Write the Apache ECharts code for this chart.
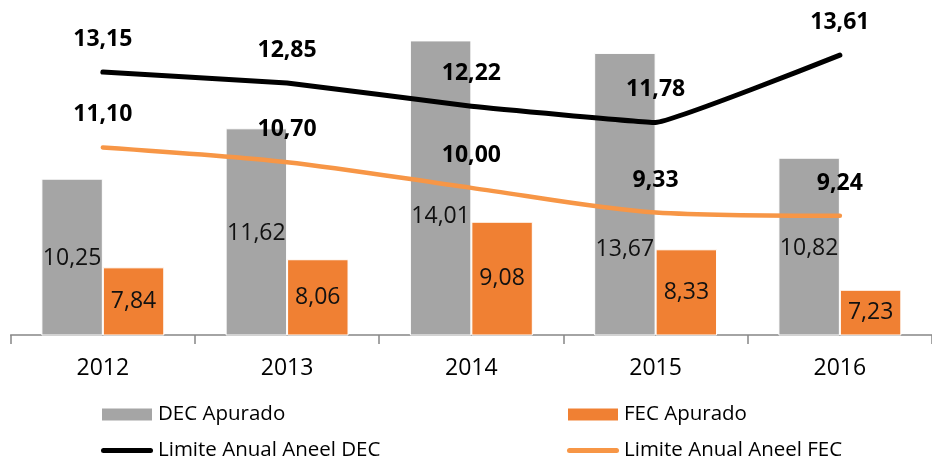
<!DOCTYPE html>
<html>
<head>
<meta charset="utf-8">
<script src="https://cdn.jsdelivr.net/npm/echarts@6/dist/echarts.min.js"></script>
<style>
html,body{margin:0;padding:0;background:#fff;}
#chart{width:932px;height:459px;}
</style>
</head>
<body>
<div id="chart"></div>
<script>
// ---- data ----
var categories = ['2012', '2013', '2014', '2015', '2016'];
var decApurado = [10.25, 11.62, 14.01, 13.67, 10.82];
var fecApurado = [7.84, 8.06, 9.08, 8.33, 7.23];
var limiteDEC = [13.15, 12.85, 12.22, 11.78, 13.61];
var limiteFEC = [11.10, 10.70, 10.00, 9.33, 9.24];
var seriesNames = ['DEC Apurado', 'FEC Apurado', 'Limite Anual Aneel DEC', 'Limite Anual Aneel FEC'];

// label vertical offsets for gray bar labels (style, not data)
var decLabelOffsets = [1, 2, 28, 55, 2];

var FONT = "'Open Sans', 'Liberation Sans', sans-serif";
function fmt(v) { return v.toFixed(2).replace('.', ','); }
var LINE_ICON = 'path://M2.5,0 L49.5,0 A2.5,2.5 0 0 1 49.5,5 L2.5,5 A2.5,2.5 0 0 1 2.5,0 Z';

var chart = echarts.init(document.getElementById('chart'), null, {renderer: 'canvas'});

var decData = decApurado.map(function (v, i) {
  return { value: v, label: { offset: [0, decLabelOffsets[i]] } };
});

function legendCfg(names, left) {
  return {
    data: [
      { name: names[0], icon: 'rect' },
      { name: names[1], icon: LINE_ICON }
    ],
    orient: 'horizontal',
    left: left,
    top: 404,
    width: 320,
    itemWidth: 52,
    itemHeight: 14,
    itemGap: 15,
    itemTextGap: 6,
    padding: 0,
    textStyle: { fontFamily: FONT, fontSize: 20.5, color: '#000', lineHeight: 21 }
  };
}

var option = {
  backgroundColor: '#ffffff',
  animation: false,
  textStyle: { fontFamily: FONT },
  grid: { left: 10.7, top: 4, width: 928.5, height: 331, containLabel: false },
  legend: [
    legendCfg([seriesNames[0], seriesNames[2]], 100),
    legendCfg([seriesNames[1], seriesNames[3]], 566)
  ],
  xAxis: {
    type: 'category',
    data: categories,
    boundaryGap: true,
    axisLine: { show: true, lineStyle: { color: '#878787', width: 1.5 } },
    axisTick: { show: true, length: 9, lineStyle: { color: '#878787', width: 1.5 } },
    axisLabel: { fontFamily: FONT, fontSize: 23, color: '#000', margin: 22 },
    splitLine: { show: false }
  },
  yAxis: {
    type: 'value',
    min: 6,
    max: 15,
    show: false,
    splitLine: { show: false }
  },
  series: [
    {
      name: seriesNames[0],
      type: 'bar',
      data: decData,
      barGap: '0%',
      barCategoryGap: '33.3%',
      itemStyle: { color: '#A5A5A5', borderColor: '#ffffff', borderWidth: 1 },
      label: {
        show: true,
        position: 'inside',
        formatter: function (p) { return fmt(p.value); },
        fontFamily: FONT, fontSize: 23, color: '#111'
      },
      z: 2
    },
    {
      name: seriesNames[1],
      type: 'bar',
      data: fecApurado,
      barGap: '0%',
      barCategoryGap: '33.3%',
      itemStyle: { color: '#F08033', borderColor: '#ffffff', borderWidth: 1 },
      label: {
        show: true,
        position: 'inside',
        formatter: function (p) { return fmt(p.value); },
        fontFamily: FONT, fontSize: 23, color: '#111'
      },
      z: 2
    },
    {
      name: seriesNames[2],
      type: 'line',
      data: limiteDEC,
      smooth: 0.08,
      symbol: 'circle',
      symbolSize: 0,
      showSymbol: true,
      lineStyle: { color: '#000000', width: 5, cap: 'round', join: 'round' },
      itemStyle: { color: '#000000' },
      label: {
        show: true,
        position: 'top',
        distance: 21,
        formatter: function (p) { return fmt(p.value); },
        fontFamily: FONT, fontSize: 23, fontWeight: 'bold', color: '#000'
      },
      z: 5
    },
    {
      name: seriesNames[3],
      type: 'line',
      data: limiteFEC,
      smooth: 0.3,
      symbol: 'circle',
      symbolSize: 0,
      showSymbol: true,
      lineStyle: { color: '#F79646', width: 4.5, cap: 'round', join: 'round' },
      itemStyle: { color: '#F79646' },
      label: {
        show: true,
        position: 'top',
        distance: 21,
        formatter: function (p) { return fmt(p.value); },
        fontFamily: FONT, fontSize: 23, fontWeight: 'bold', color: '#000'
      },
      z: 4
    }
  ]
};
chart.setOption(option);
</script>
</body>
</html>
